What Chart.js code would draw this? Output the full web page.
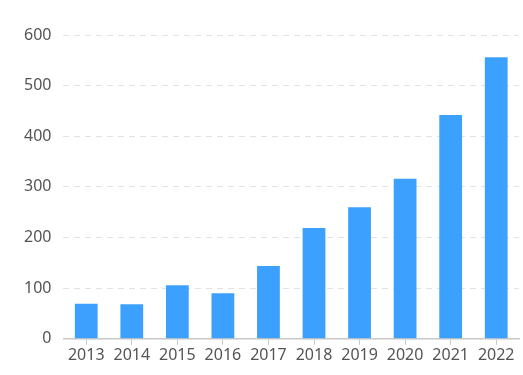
<!DOCTYPE html>
<html>
<head>
  <meta charset="UTF-8">
  <title>Bar chart 2013-2022</title>
  <script src="https://cdn.jsdelivr.net/npm/chart.js"></script>
  <style>
    body { margin: 0; background: #fff; }
    .wrap { width: 523px; height: 375px; }
  </style>
</head>
<body>
  <div class="wrap"><canvas id="bars"></canvas></div>
  <script>
    const years = ['2013', '2014', '2015', '2016', '2017', '2018', '2019', '2020', '2021', '2022'];
    const values = [69, 68, 106, 90, 144, 219, 260, 316, 442, 556];
    const yTicks = [0, 100, 200, 300, 400, 500, 600];

    const ctx = document.getElementById('bars').getContext('2d');
    new Chart(ctx, {
      type: 'bar',
      data: {
        labels: years,
        datasets: [{
          data: values,
          backgroundColor: '#3ca0ff',
          categoryPercentage: 1,
          barPercentage: 0.5
        }]
      },
      options: {
        responsive: true,
        maintainAspectRatio: false,
        animation: false,
        layout: { padding: { top: 35, right: 4, left: 12, bottom: 9 } },
        plugins: { legend: { display: false }, tooltip: { enabled: false } },
        scales: {
          x: {
            offset: true,
            grid: { drawOnChartArea: false, color: '#c8c8c8', tickLength: 6, offset: false },
            border: { color: '#c8c8c8', width: 1.5 },
            ticks: { color: '#555', font: { family: 'Noto Sans', size: 16 }, padding: 1 }
          },
          y: {
            min: 0,
            max: 600,
            afterBuildTicks: (axis) => { axis.ticks = yTicks.map(v => ({ value: v })); },
            grid: { color: '#e2e2e2', tickLength: 0, drawTicks: false },
            border: { display: false, dash: [6, 5] },
            ticks: { color: '#555', font: { family: 'Noto Sans', size: 16 }, padding: 12 }
          }
        }
      }
    });
  </script>
</body>
</html>
